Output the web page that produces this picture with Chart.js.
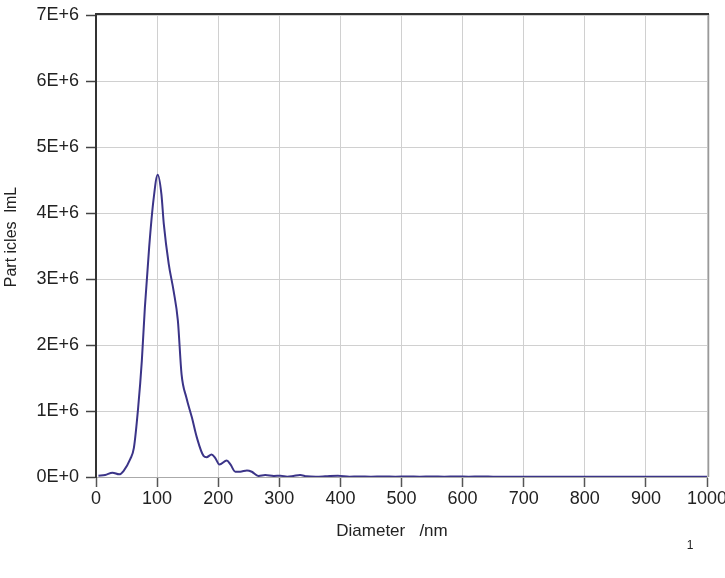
<!DOCTYPE html>
<html>
<head>
<meta charset="utf-8">
<script src="https://cdn.jsdelivr.net/npm/chart.js@4"></script>
<style>
  html, body { margin: 0; padding: 0; background: #fff; }
  #wrap { width: 725px; height: 578px; position: relative; }
</style>
</head>
<body>
<div id="wrap"><canvas id="c" width="725" height="578"></canvas></div>
<script>
const diameters = [4, 15, 27, 38, 45, 56, 62, 69, 75, 80, 87, 94, 101, 107, 111, 119, 127, 134, 140, 148, 157, 165, 176, 181, 189, 195, 202, 214, 220, 228, 236, 247, 255, 266, 277, 291, 302, 313, 323, 334, 345, 360, 375, 396, 415, 430, 450, 470, 490, 510, 530, 550, 570, 590, 610, 630, 650, 670, 700, 750, 800, 850, 900, 950, 1000];
const particles = [0.02e6, 0.03e6, 0.065e6, 0.04e6, 0.09e6, 0.27e6, 0.44e6, 1.05e6, 1.76e6, 2.57e6, 3.48e6, 4.19e6, 4.58e6, 4.29e6, 3.83e6, 3.23e6, 2.82e6, 2.37e6, 1.56e6, 1.2e6, 0.9e6, 0.6e6, 0.32e6, 0.30e6, 0.34e6, 0.29e6, 0.19e6, 0.25e6, 0.19e6, 0.08e6, 0.08e6, 0.10e6, 0.08e6, 0.015e6, 0.03e6, 0.015e6, 0.02e6, 0.005e6, 0.015e6, 0.03e6, 0.01e6, 0.005e6, 0.01e6, 0.02e6, 0.005e6, 0.008e6, 0.005e6, 0.008e6, 0.005e6, 0.007e6, 0.005e6, 0.007e6, 0.005e6, 0.007e6, 0.005e6, 0.007e6, 0.005e6, 0.004e6, 0.004e6, 0.004e6, 0.004e6, 0.004e6, 0.004e6, 0.004e6, 0.004e6];
const yTickLabels = ['0E+0', '1E+6', '2E+6', '3E+6', '4E+6', '5E+6', '6E+6', '7E+6'];
const xTickLabels = ['0', '100', '200', '300', '400', '500', '600', '700', '800', '900', '1000'];
const xTitle = 'Diameter   /nm';
const yTitle = 'Part icles  lmL';
const footnote = '1';

const FONT = '"Liberation Sans", Arial, sans-serif';
const points = diameters.map((d, i) => ({ x: d, y: particles[i] }));

const framePlugin = {
  id: 'frame',
  afterDraw(chart) {
    const { ctx, chartArea: a } = chart;
    ctx.save();
    ctx.strokeStyle = '#9a9a9a';
    ctx.lineWidth = 1.5;
    ctx.beginPath();
    ctx.moveTo(a.right + 1.5, a.top - 1);
    ctx.lineTo(a.right + 1.5, a.bottom);
    ctx.stroke();
    ctx.strokeStyle = '#333';
    ctx.lineWidth = 2;
    ctx.beginPath();
    ctx.moveTo(a.left - 1, a.top - 1);
    ctx.lineTo(a.right + 2, a.top - 1);
    ctx.stroke();
    ctx.fillStyle = '#222';
    ctx.textAlign = 'center';
    ctx.textBaseline = 'middle';
    ctx.font = '12px ' + FONT;
    ctx.fillText(footnote, 690, 546);
    ctx.font = '17px ' + FONT;
    ctx.fillText(xTitle, 392, 531);
    ctx.translate(12, 237);
    ctx.rotate(-Math.PI / 2);
    ctx.font = '16px ' + FONT;
    ctx.fillText(yTitle, 0, 0);
    ctx.restore();
  }
};

new Chart(document.getElementById('c'), {
  type: 'line',
  data: {
    datasets: [{
      data: points,
      borderColor: '#3b3488',
      borderWidth: 2,
      pointRadius: 0,
      cubicInterpolationMode: 'monotone',
      fill: false
    }]
  },
  options: {
    responsive: false,
    animation: false,
    layout: { padding: { top: 15, right: 18, bottom: 0, left: 0 } },
    plugins: { legend: { display: false }, tooltip: { enabled: false } },
    scales: {
      x: {
        type: 'linear',
        min: 0,
        max: 1000,
        afterFit(s) { s.height = 101; s.paddingLeft = 0; s.paddingRight = 0; },
        ticks: {
          stepSize: 100,
          autoSkip: false,
          maxRotation: 0,
          padding: 1,
          color: '#222',
          font: { family: FONT, size: 18 },
          callback: (v) => xTickLabels[Math.round(v / 100)]
        },
        grid: { color: '#d0d0d0', lineWidth: 1, tickLength: 10, tickColor: '#555', tickWidth: 1.5 },
        border: { color: '#aaa', width: 1 }
      },
      y: {
        min: 0,
        max: 7e6,
        afterFit(s) { s.width = 96; s.paddingTop = 0; s.paddingBottom = 0; },
        ticks: {
          stepSize: 1e6,
          padding: 7,
          color: '#222',
          font: { family: FONT, size: 18 },
          callback: (v) => yTickLabels[Math.round(v / 1e6)]
        },
        grid: { color: '#d0d0d0', lineWidth: 1, tickLength: 10, tickColor: '#444', tickWidth: 1.5 },
        border: { color: '#333', width: 2 }
      }
    }
  },
  plugins: [framePlugin]
});
</script>
</body>
</html>
